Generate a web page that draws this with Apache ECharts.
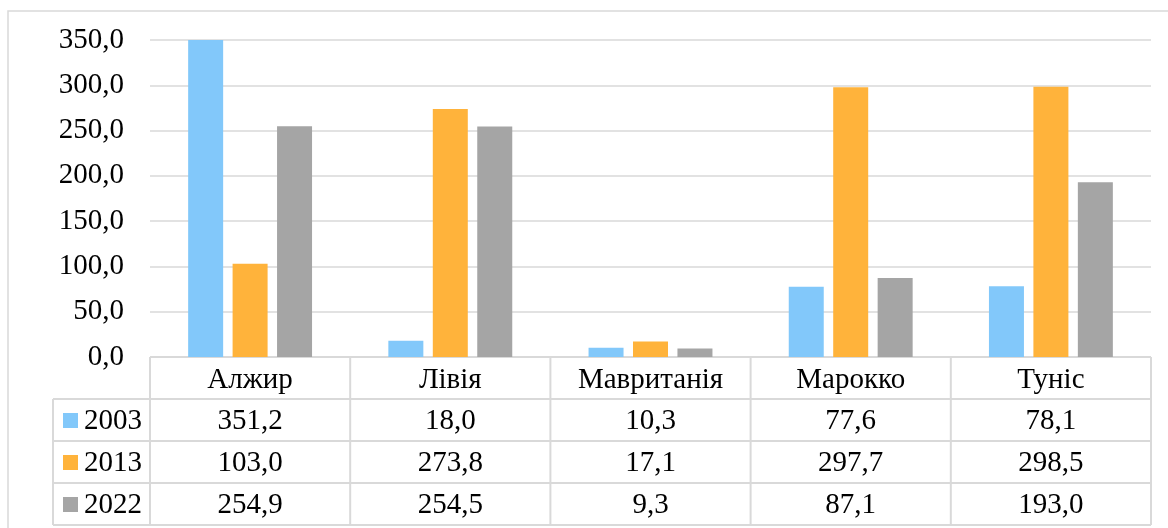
<!DOCTYPE html>
<html>
<head>
<meta charset="utf-8">
<script src="https://cdn.jsdelivr.net/npm/echarts@6/dist/echarts.min.js"></script>
<style>
  html, body { margin: 0; padding: 0; background: #fff; }
  #chart { width: 1168px; height: 528px; }
</style>
</head>
<body>
<div id="chart"></div>
<script>
const countries = ['Алжир', 'Лівія', 'Мавританія', 'Марокко', 'Туніс']
const years = ['2003', '2013', '2022']
const values2003 = [351.2, 18.0, 10.3, 77.6, 78.1]
const values2013 = [103.0, 273.8, 17.1, 297.7, 298.5]
const values2022 = [254.9, 254.5, 9.3, 87.1, 193.0]
const colors = ['#82C8FA', '#FFB33B', '#A5A5A5']

const seriesValues = [values2003, values2013, values2022]
const fontFamily = '"Liberation Serif", "Times New Roman", serif'
const fontSize = 29
const lineColor = '#d9d9d9'
const fmt = v => v.toFixed(1).replace('.', ',')

// grid position (px)
const gridLeft = 150, gridRight = 17, gridTop = 40, gridBottom = 171
const rowH = 42, legendLeft = 53

const chart = echarts.init(document.getElementById('chart'))

const option = {
  backgroundColor: '#fff',
  animation: false,
  grid: { left: gridLeft, right: gridRight, top: gridTop, bottom: gridBottom },
  xAxis: {
    type: 'category',
    data: countries,
    axisLine: { show: false },
    axisTick: { show: false },
    axisLabel: { show: false }
  },
  yAxis: {
    type: 'value',
    min: 0,
    max: 350,
    interval: 50,
    axisLine: { show: false },
    axisTick: { show: false },
    axisLabel: {
      formatter: v => fmt(v),
      fontFamily: fontFamily,
      fontSize: fontSize,
      color: '#000',
      margin: 26
    },
    splitLine: { lineStyle: { color: lineColor, width: 1.5 } }
  },
  series: years.map((y, i) => ({
    name: y,
    type: 'bar',
    data: seriesValues[i],
    barWidth: 35,
    barGap: '27%',
    itemStyle: { color: colors[i] }
  }))
}
chart.setOption(option)

// data table under the plot, built from the same arrays
function buildTable() {
  const width = 1168, height = 528
  const top = height - gridBottom
  const right = width - gridRight
  const colW = (right - gridLeft) / countries.length
  const els = []
  const line = (x1, y1, x2, y2) => els.push({
    type: 'line',
    shape: { x1, y1, x2, y2 },
    style: { stroke: lineColor, lineWidth: 2 }
  })
  const text = (x, y, t) => els.push({
    type: 'text',
    x, y,
    style: { text: t, fontFamily, fontSize, fill: '#000', align: 'center', verticalAlign: 'middle' }
  })

  // horizontal lines
  line(gridLeft, top, right, top)
  for (let r = 1; r <= 4; r++) line(legendLeft, top + r * rowH, right, top + r * rowH)
  // vertical lines
  line(legendLeft, top + rowH, legendLeft, top + 4 * rowH)
  for (let c = 0; c <= countries.length; c++) {
    const x = gridLeft + c * colW
    line(x, top, x, top + 4 * rowH)
  }

  countries.forEach((name, c) => {
    const cx = chart.convertToPixel({ xAxisIndex: 0 }, name)
    text(cx, top + rowH / 2 + 2, name)
    seriesValues.forEach((vals, r) => {
      text(cx, top + (r + 1.5) * rowH + 1, fmt(vals[c]))
    })
  })

  years.forEach((y, r) => {
    const cy = top + (r + 1.5) * rowH
    els.push({
      type: 'rect',
      shape: { x: 63, y: cy - 7, width: 15, height: 15 },
      style: { fill: colors[r] }
    })
    els.push({
      type: 'text',
      x: 84, y: cy + 1,
      style: { text: y, fontFamily, fontSize, fill: '#000', align: 'left', verticalAlign: 'middle' }
    })
  })

  // outer chart border
  els.push({
    type: 'rect',
    shape: { x: 8, y: 11, width: 1180, height: 540 },
    style: { fill: null, stroke: lineColor, lineWidth: 1.5 },
    z: -1
  })
  return els
}

chart.setOption({ graphic: buildTable() })
</script>
</body>
</html>
